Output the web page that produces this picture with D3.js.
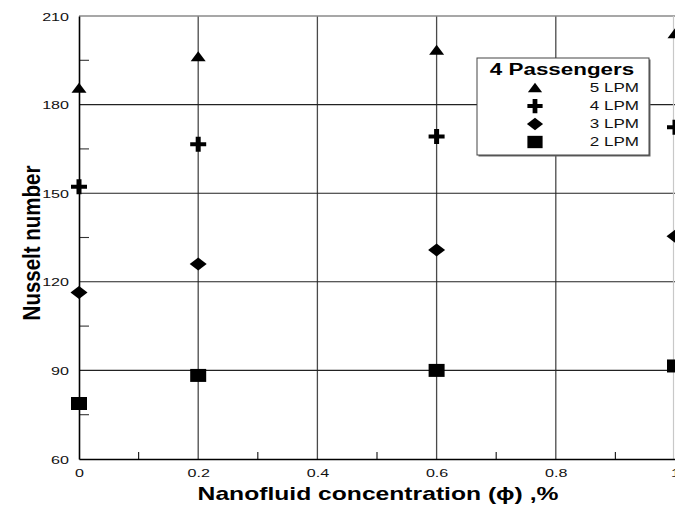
<!DOCTYPE html>
<html>
<head>
<meta charset="utf-8">
<script src="https://cdn.jsdelivr.net/npm/d3@7"></script>
<style>
  html, body { margin: 0; padding: 0; background: #fff; }
  svg { display: block; font-family: Arial, "Liberation Sans", sans-serif; }
</style>
</head>
<body>
<svg id="chart" width="675" height="510"></svg>
<script>
// Nanofluid concentration (%) at which Nu was measured
const concentrations = [0, 0.2, 0.6, 1];

// Nusselt number for each coolant flow rate (4 passengers)
const nu5LPM = [185.5, 196.2, 198.4, 204.0];
const nu4LPM = [152.2, 166.6, 169.2, 172.3];
const nu3LPM = [116.4, 126.0, 130.8, 135.4];
const nu2LPM = [78.8, 88.3, 90.0, 91.5];

const seriesNames = ["5 LPM", "4 LPM", "3 LPM", "2 LPM"];
const seriesValues = [nu5LPM, nu4LPM, nu3LPM, nu2LPM];
const seriesSymbols = ["triangle", "plus", "diamond", "square"];

const xMajorTicks = [0, 0.2, 0.4, 0.6, 0.8, 1];
const xMinorTicks = [0.1, 0.3, 0.5, 0.7, 0.9];
const yMajorTicks = [60, 90, 120, 150, 180, 210];
const yMinorTicks = [75, 105, 135, 165, 195];

const legendTitle = "4 Passengers";
const xTitle = "Nanofluid concentration (\u03D5) ,%";
const yTitle = "Nusselt number";

const svg = d3.select("#chart");
const plotLeft = 79, plotRight = 675, plotTop = 16, plotBottom = 459;

const x = d3.scaleLinear().domain([0, 1]).range([plotLeft, plotRight]);
const y = d3.scaleLinear().domain([60, 210]).range([plotBottom, plotTop]);

// Grid lines
const grid = svg.append("g");
grid.selectAll("line.vg").data(xMajorTicks.slice(1, -1)).join("line")
  .attr("x1", d => x(d)).attr("x2", d => x(d))
  .attr("y1", plotTop).attr("y2", plotBottom)
  .attr("stroke", "#4a4a4a").attr("stroke-width", 1.3);
grid.selectAll("line.hg").data(yMajorTicks.slice(1, -1)).join("line")
  .attr("x1", plotLeft).attr("x2", plotRight)
  .attr("y1", d => y(d)).attr("y2", d => y(d))
  .attr("stroke", "#222").attr("stroke-width", 1.1);

// Frame: top and right borders
svg.append("line").attr("x1", plotLeft).attr("x2", plotRight).attr("y1", plotTop).attr("y2", plotTop)
  .attr("stroke", "#8a8a8a").attr("stroke-width", 1.5);
svg.append("line").attr("x1", plotRight - 1.5).attr("x2", plotRight - 1.5).attr("y1", plotTop).attr("y2", plotBottom)
  .attr("stroke", "#c8c8c8").attr("stroke-width", 1.2);

// Minor ticks
svg.append("g").selectAll("line").data(xMinorTicks).join("line")
  .attr("x1", d => x(d)).attr("x2", d => x(d))
  .attr("y1", plotBottom).attr("y2", plotBottom - 7)
  .attr("stroke", "#222").attr("stroke-width", 1.2);
svg.append("g").selectAll("line").data(yMinorTicks).join("line")
  .attr("x1", plotLeft).attr("x2", plotLeft + 10)
  .attr("y1", d => y(d)).attr("y2", d => y(d))
  .attr("stroke", "#333").attr("stroke-width", 1.1);

// Axes lines and tick labels
const xAxis = svg.append("g").attr("transform", `translate(0,${plotBottom})`)
  .call(d3.axisBottom(x).tickValues(xMajorTicks).tickSize(0).tickFormat(d3.format("")));
const yAxis = svg.append("g").attr("transform", `translate(${plotLeft},0)`)
  .call(d3.axisLeft(y).tickValues(yMajorTicks).tickSize(0));
[xAxis, yAxis].forEach(a => {
  a.select(".domain").attr("stroke", "#000").attr("stroke-width", 1.6);
  a.selectAll("text").attr("font-size", 11.5).attr("fill", "#111")
    .attr("font-family", "Arial, 'Liberation Sans', sans-serif");
});
xAxis.selectAll(".tick text")
  .attr("y", 18).attr("dy", 0)
  .attr("transform", "scale(1.4,1)");
yAxis.selectAll(".tick text")
  .attr("x", -10 / 1.4).attr("dy", "0.36em")
  .attr("transform", "scale(1.4,1)");

// Series markers
function markerPath(kind) {
  switch (kind) {
    case "triangle": return "M0,-5.5L7.5,4.5L-7.5,4.5Z";
    case "plus": return "M-2.5,-7.5H2.5V-2H8V2H2.5V7.5H-2.5V2H-8V-2H-2.5Z";
    case "diamond": return "M0,-6.5L8.5,0L0,6.5L-8.5,0Z";
    case "square": return "M-8,-6.5H8V6.5H-8Z";
  }
}
const marks = svg.append("g");
seriesValues.forEach((vals, i) => {
  marks.selectAll(null).data(vals.map((v, j) => [concentrations[j], v])).join("path")
    .attr("d", markerPath(seriesSymbols[i]))
    .attr("transform", d => `translate(${x(d[0])},${y(d[1])})`)
    .attr("fill", "#000");
});

// Legend
const lg = svg.append("g");
const lx = 477, ly = 58, lw = 172, lh = 97;
lg.append("rect").attr("x", lx + 1.5).attr("y", ly + 1.5).attr("width", lw).attr("height", lh).attr("fill", "#666");
lg.append("rect").attr("x", lx).attr("y", ly).attr("width", lw).attr("height", lh)
  .attr("fill", "#fff").attr("stroke", "#444").attr("stroke-width", 1);
lg.append("text").attr("transform", `translate(${lx + 85},${ly + 17}) scale(1.4,1)`)
  .attr("text-anchor", "middle").attr("font-size", 16).attr("font-weight", "bold")
  .attr("fill", "#000").text(legendTitle);
seriesNames.forEach((name, i) => {
  const ry = 88 + i * 18;
  lg.append("path").attr("d", markerPath(seriesSymbols[i]))
    .attr("transform", `translate(535,${ry}) scale(0.95)`).attr("fill", "#000");
  lg.append("text").attr("transform", `translate(639,${ry + 4}) scale(1.42,1)`)
    .attr("text-anchor", "end").attr("font-size", 12).attr("fill", "#111").text(name);
});

// Axis titles
svg.append("text").attr("transform", "translate(378,500) scale(1.37,1)")
  .attr("text-anchor", "middle").attr("font-size", 18).attr("font-weight", "bold")
  .attr("fill", "#000").text(xTitle);
svg.append("text").attr("transform", "translate(40,243) rotate(-90) scale(1,1.2)")
  .attr("text-anchor", "middle").attr("font-size", 20.5).attr("font-weight", "bold")
  .attr("fill", "#000").text(yTitle);
</script>
</body>
</html>
